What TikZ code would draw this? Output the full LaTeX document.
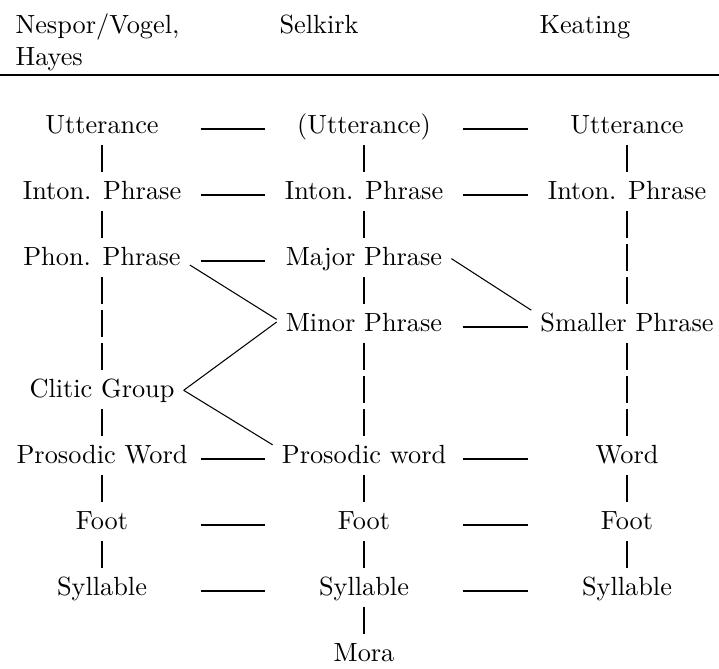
\documentclass[tikz,border=0pt]{standalone}
\usepackage{tikz}

\begin{document}
\begin{tikzpicture}[x=0.3802pt, y=-0.3802pt]
        \tikzstyle{level} = [inner sep=3.3pt, anchor=base]
        \tikzstyle{head} = [inner sep=0pt, anchor=base west]
        \tikzstyle{link} = [line width=0.45pt, shorten <=37.5pt, shorten >=37.5pt]
        \tikzstyle{chain} = [line width=0.45pt, dash pattern=on 10.27pt off 2.28pt, shorten <=4.56pt, shorten >=10.27pt]
        \tikzstyle{cross} = [line width=0.4pt]
        \useasboundingbox (0,0) rectangle (719,668);

        % header
        \node (nvhead) [head] at (15,33) {Nespor/Vogel,};
        \node (hayes) [head] at (15,65) {Hayes};
        \node (skhead) [head] at (279,33) {Selkirk};
        \node (khead) [head] at (539,33) {Keating};
        \coordinate (ruleleft) at (0,75);
        \coordinate (ruleright) at (719,75);
        \draw[line width=0.6pt] (ruleleft) -- (ruleright);

        % Nespor/Vogel, Hayes
        \node (nvutt) [level] at (102,133) {Utterance};
        \node (nvint) [level] at (102,199) {Inton. Phrase};
        \node (nvphon) [level] at (102,265) {Phon. Phrase};
        \node (nvclitic) [level] at (102,397) {Clitic Group};
        \node (nvword) [level] at (102,463) {Prosodic Word};
        \node (nvfoot) [level] at (102,529) {Foot};
        \node (nvsyl) [level] at (102,595) {Syllable};

        % Selkirk
        \node (skutt) [level] at (364,133) {(Utterance)};
        \node (skint) [level] at (364,199) {Inton. Phrase};
        \node (skmajor) [level] at (364,265) {Major Phrase};
        \node (skminor) [level] at (364,331) {Minor Phrase};
        \node (skword) [level] at (364,463) {Prosodic word};
        \node (skfoot) [level] at (364,529) {Foot};
        \node (sksyl) [level] at (364,595) {Syllable};
        \node (skmora) [level] at (364,661) {Mora};

        % Keating
        \node (kutt) [level] at (627,133) {Utterance};
        \node (kint) [level] at (627,199) {Inton. Phrase};
        \node (ksmall) [level] at (627,331) {Smaller Phrase};
        \node (kword) [level] at (627,463) {Word};
        \node (kfoot) [level] at (627,529) {Foot};
        \node (ksyl) [level] at (627,595) {Syllable};

        % vertical chains
        \draw[chain] (nvutt.base) -- (nvint.base);
        \draw[chain] (nvint.base) -- (nvphon.base);
        \draw[chain] (nvphon.base) -- (nvclitic.base);
        \draw[chain] (nvclitic.base) -- (nvword.base);
        \draw[chain] (nvword.base) -- (nvfoot.base);
        \draw[chain] (nvfoot.base) -- (nvsyl.base);

        \draw[chain] (skutt.base) -- (skint.base);
        \draw[chain] (skint.base) -- (skmajor.base);
        \draw[chain] (skmajor.base) -- (skminor.base);
        \draw[chain] (skminor.base) -- (skword.base);
        \draw[chain] (skword.base) -- (skfoot.base);
        \draw[chain] (skfoot.base) -- (sksyl.base);
        \draw[chain] (sksyl.base) -- (skmora.base);

        \draw[chain] (kutt.base) -- (kint.base);
        \draw[chain] (kint.base) -- (ksmall.base);
        \draw[chain] (ksmall.base) -- (kword.base);
        \draw[chain] (kword.base) -- (kfoot.base);
        \draw[chain] (kfoot.base) -- (ksyl.base);

        % horizontal links
        \draw[link] ([yshift=1.5pt]nvutt.base) -- ([yshift=1.5pt]skutt.base);
        \draw[link] ([yshift=1.5pt]nvint.base) -- ([yshift=1.5pt]skint.base);
        \draw[link] ([yshift=1.5pt]nvphon.base) -- ([yshift=1.5pt]skmajor.base);
        \draw[link] ([yshift=1.5pt]nvword.base) -- ([yshift=1.5pt]skword.base);
        \draw[link] ([yshift=1.5pt]nvfoot.base) -- ([yshift=1.5pt]skfoot.base);
        \draw[link] ([yshift=1.5pt]nvsyl.base) -- ([yshift=1.5pt]sksyl.base);

        \draw[link] ([yshift=1.5pt]skutt.base) -- ([yshift=1.5pt]kutt.base);
        \draw[link] ([yshift=1.5pt]skint.base) -- ([yshift=1.5pt]kint.base);
        \draw[link] ([yshift=1.5pt]skminor.base) -- ([yshift=1.5pt]ksmall.base);
        \draw[link] ([yshift=1.5pt]skword.base) -- ([yshift=1.5pt]kword.base);
        \draw[link] ([yshift=1.5pt]skfoot.base) -- ([yshift=1.5pt]kfoot.base);
        \draw[link] ([yshift=1.5pt]sksyl.base) -- ([yshift=1.5pt]ksyl.base);

        % crossing lines
        \draw[cross] (nvphon.base east) -- ([yshift=1pt]skminor.west);
        \draw[cross] (nvclitic.east) -- (skminor.west);
        \draw[cross] (nvclitic.east) -- ([yshift=3.5pt]skword.west);
        \draw[cross] (skmajor.east) -- ([yshift=4.5pt]ksmall.west);
    \end{tikzpicture}
\end{document}
